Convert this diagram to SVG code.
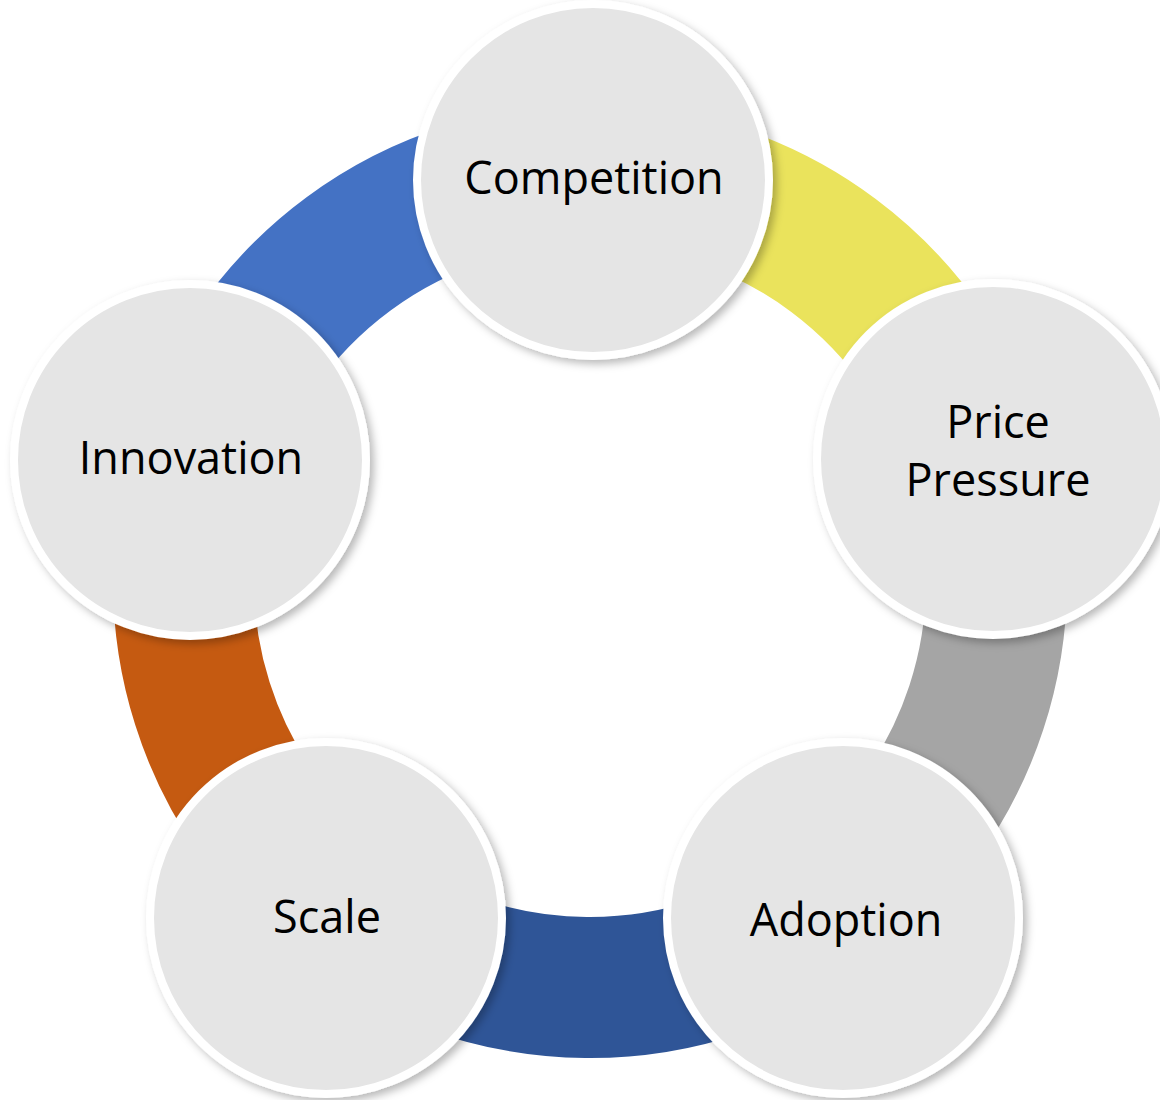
<svg xmlns="http://www.w3.org/2000/svg" width="1160" height="1100" viewBox="0 0 1160 1100">
  <style>
    .seg { fill: none; stroke-width: 141; stroke-linecap: butt; }
    .node circle { fill: #E5E5E5; stroke: #FFFFFF; stroke-width: 8; filter: url(#shadow); }
    .node text { font-family: "Open Sans", "Liberation Sans", sans-serif; font-size: 45px; fill: #000000; text-anchor: middle; }
  </style>
  <defs>
    <filter id="shadow" x="-20%" y="-20%" width="140%" height="140%">
      <feDropShadow dx="4" dy="4" stdDeviation="4" flood-color="#000000" flood-opacity="0.28"/>
    </filter>
  </defs>
  <rect width="1160" height="1100" fill="#FFFFFF"/>
  <g id="connectors">
    <path class="seg" stroke="#EAE35C" d="M 592.8 174.5 A 406.5 406.5 0 0 1 979.2 463.5"/>
    <path class="seg" stroke="#A5A5A5" d="M 979.2 463.5 A 406.5 406.5 0 0 1 834.1 906.1"/>
    <path class="seg" stroke="#2F5597" d="M 834.1 906.1 A 406.5 406.5 0 0 1 339.2 900.9"/>
    <path class="seg" stroke="#C55A11" d="M 339.2 900.9 A 406.5 406.5 0 0 1 200.8 463.5"/>
    <path class="seg" stroke="#4472C4" d="M 200.8 463.5 A 406.5 406.5 0 0 1 592.8 174.5"/>
  </g>
  <g id="node-competition" class="node">
    <circle cx="593" cy="180" r="176"/>
    <text x="594" y="194">Competition</text>
  </g>
  <g id="node-price-pressure" class="node">
    <circle cx="993" cy="459" r="176"/>
    <text x="998" y="438">Price</text>
    <text x="998" y="496">Pressure</text>
  </g>
  <g id="node-adoption" class="node">
    <circle cx="843" cy="918" r="176"/>
    <text x="846" y="936">Adoption</text>
  </g>
  <g id="node-scale" class="node">
    <circle cx="326" cy="918" r="176"/>
    <text x="327" y="933">Scale</text>
  </g>
  <g id="node-innovation" class="node">
    <circle cx="190" cy="460" r="176"/>
    <text x="191" y="474">Innovation</text>
  </g>
</svg>
